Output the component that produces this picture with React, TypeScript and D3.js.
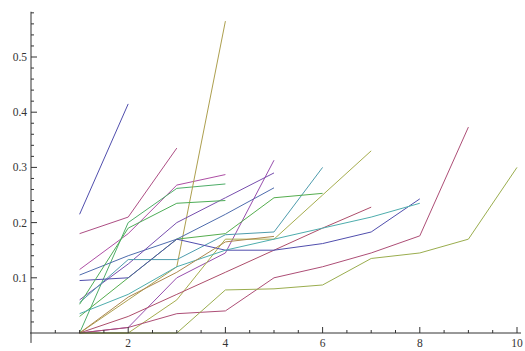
import React, { useEffect, useRef } from 'react';
import * as d3 from 'd3';

// step index (x) for every series
const steps = [1, 2, 3, 4, 5, 6, 7, 8, 9, 10];

const s01 = [0.215, 0.415];
const s02 = [0.18, 0.21, 0.335];
const s03 = [0.115, 0.18, 0.268, 0.287];
const s04 = [0.0, 0.2, 0.262, 0.27];
const s05 = [0.0, 0.06, 0.12, 0.565];
const s06 = [0.105, 0.14, 0.17, 0.215, 0.263];
const s07 = [0.06, 0.125, 0.2, 0.245, 0.29];
const s08 = [0.0, 0.01, 0.1, 0.145, 0.313];
const s09 = [0.055, 0.133, 0.133, 0.178, 0.183, 0.3];
const s10 = [0.03, 0.1, 0.17, 0.18, 0.245, 0.253];
const s11 = [0.0, 0.0, 0.06, 0.17, 0.17, 0.25, 0.33];
const s12 = [0.0, 0.03, 0.07, 0.11, 0.15, 0.19, 0.228];
const s13 = [0.095, 0.1, 0.17, 0.15, 0.15, 0.162, 0.183, 0.243];
const s14 = [0.035, 0.07, 0.12, 0.15, 0.17, 0.19, 0.21, 0.235];
const s15 = [0.0, 0.01, 0.035, 0.04, 0.1, 0.12, 0.145, 0.176, 0.373];
const s16 = [0.0, 0.0, 0.0, 0.078, 0.08, 0.087, 0.135, 0.145, 0.17, 0.3];
const s17 = [0.052, 0.19, 0.235, 0.24];
const s18 = [0.0, 0.065, 0.11, 0.165, 0.175];

const seriesList = [s01, s02, s03, s04, s05, s06, s07, s08, s09, s10, s11, s12, s13, s14, s15, s16, s17, s18];
// hue of each line (Mathematica style Hue[h, s, v])
const hues = [0.67, 0.906, 0.85, 0.378, 0.142, 0.614, 0.739, 0.795, 0.53, 0.322, 0.18, 0.95, 0.67, 0.5, 0.93, 0.2, 0.35, 0.1];

const xTicks = [2, 4, 6, 8, 10];
const yTicks = [0.1, 0.2, 0.3, 0.4, 0.5];

const W = 525;
const H = 351;

function hueColor(h: number, s = 0.55, v = 0.68) {
  const i = Math.floor(h * 6);
  const f = h * 6 - i;
  const p = v * (1 - s);
  const q = v * (1 - f * s);
  const t = v * (1 - (1 - f) * s);
  const m = [
    [v, t, p], [q, v, p], [p, v, t], [p, q, v], [t, p, v], [v, p, q],
  ][i % 6];
  return d3.rgb(m[0] * 255, m[1] * 255, m[2] * 255).formatHex();
}

const App: React.FC = () => {
  const svgRef = useRef<SVGSVGElement>(null);

  useEffect(() => {
    if (!svgRef.current) return;
    const svg = d3.select(svgRef.current);
    svg.selectAll('*').remove();

    const x = d3.scaleLinear().domain([0, 10]).range([31, 517]);
    const y = d3.scaleLinear().domain([0, 0.5]).range([333, 57]);

    const axisColor = '#333';

    // lines
    const line = d3.line<number>()
      .x((_, i) => x(steps[i]))
      .y((d) => y(d));

    svg.append('g')
      .selectAll('path')
      .data(seriesList)
      .enter()
      .append('path')
      .attr('d', (d) => line(d))
      .attr('fill', 'none')
      .attr('stroke', (_, i) => hueColor(hues[i]))
      .attr('stroke-width', 1)
      .attr('stroke-linejoin', 'round');

    const axes = svg.append('g').attr('stroke', axisColor).attr('stroke-width', 1);

    // x axis
    axes.append('line')
      .attr('x1', 30).attr('x2', 521)
      .attr('y1', y(0)).attr('y2', y(0));
    // y axis
    axes.append('line')
      .attr('x1', x(0)).attr('x2', x(0))
      .attr('y1', y(-0.018)).attr('y2', y(0.582));

    // x ticks: minor every 0.5, major at labels
    const xMinor = d3.range(0.5, 10.01, 0.5);
    axes.selectAll('line.xt')
      .data(xMinor)
      .enter()
      .append('line')
      .attr('x1', (d) => x(d)).attr('x2', (d) => x(d))
      .attr('y1', y(0))
      .attr('y2', (d) => y(0) - (xTicks.includes(d) ? 6 : 3));

    // y ticks: minor every 0.02
    const yMinor = d3.range(1, 30).map((k) => k * 0.02);
    axes.selectAll('line.yt')
      .data(yMinor)
      .enter()
      .append('line')
      .attr('x1', x(0))
      .attr('x2', (d) => x(0) + (Math.abs(d * 10 - Math.round(d * 10)) < 1e-6 ? 6 : 3))
      .attr('y1', (d) => y(d)).attr('y2', (d) => y(d));

    const font = '"Liberation Serif", "DejaVu Serif", serif';

    svg.append('g')
      .selectAll('text')
      .data(xTicks)
      .enter()
      .append('text')
      .attr('x', (d) => x(d))
      .attr('y', y(0) + 14)
      .attr('text-anchor', 'middle')
      .attr('font-family', font)
      .attr('font-size', 11.5)
      .attr('fill', axisColor)
      .text((d) => String(d));

    svg.append('g')
      .selectAll('text')
      .data(yTicks)
      .enter()
      .append('text')
      .attr('x', x(0) - 4)
      .attr('y', (d) => y(d) + 4)
      .attr('text-anchor', 'end')
      .attr('font-family', font)
      .attr('font-size', 11.5)
      .attr('fill', axisColor)
      .text((d) => d.toFixed(1));
  }, []);

  return (
    <svg
      ref={svgRef}
      width={W}
      height={H}
      viewBox={`0 0 ${W} ${H}`}
      style={{ position: 'absolute', left: 0, top: 0, background: '#fff' }}
    />
  );
};

export default App;
